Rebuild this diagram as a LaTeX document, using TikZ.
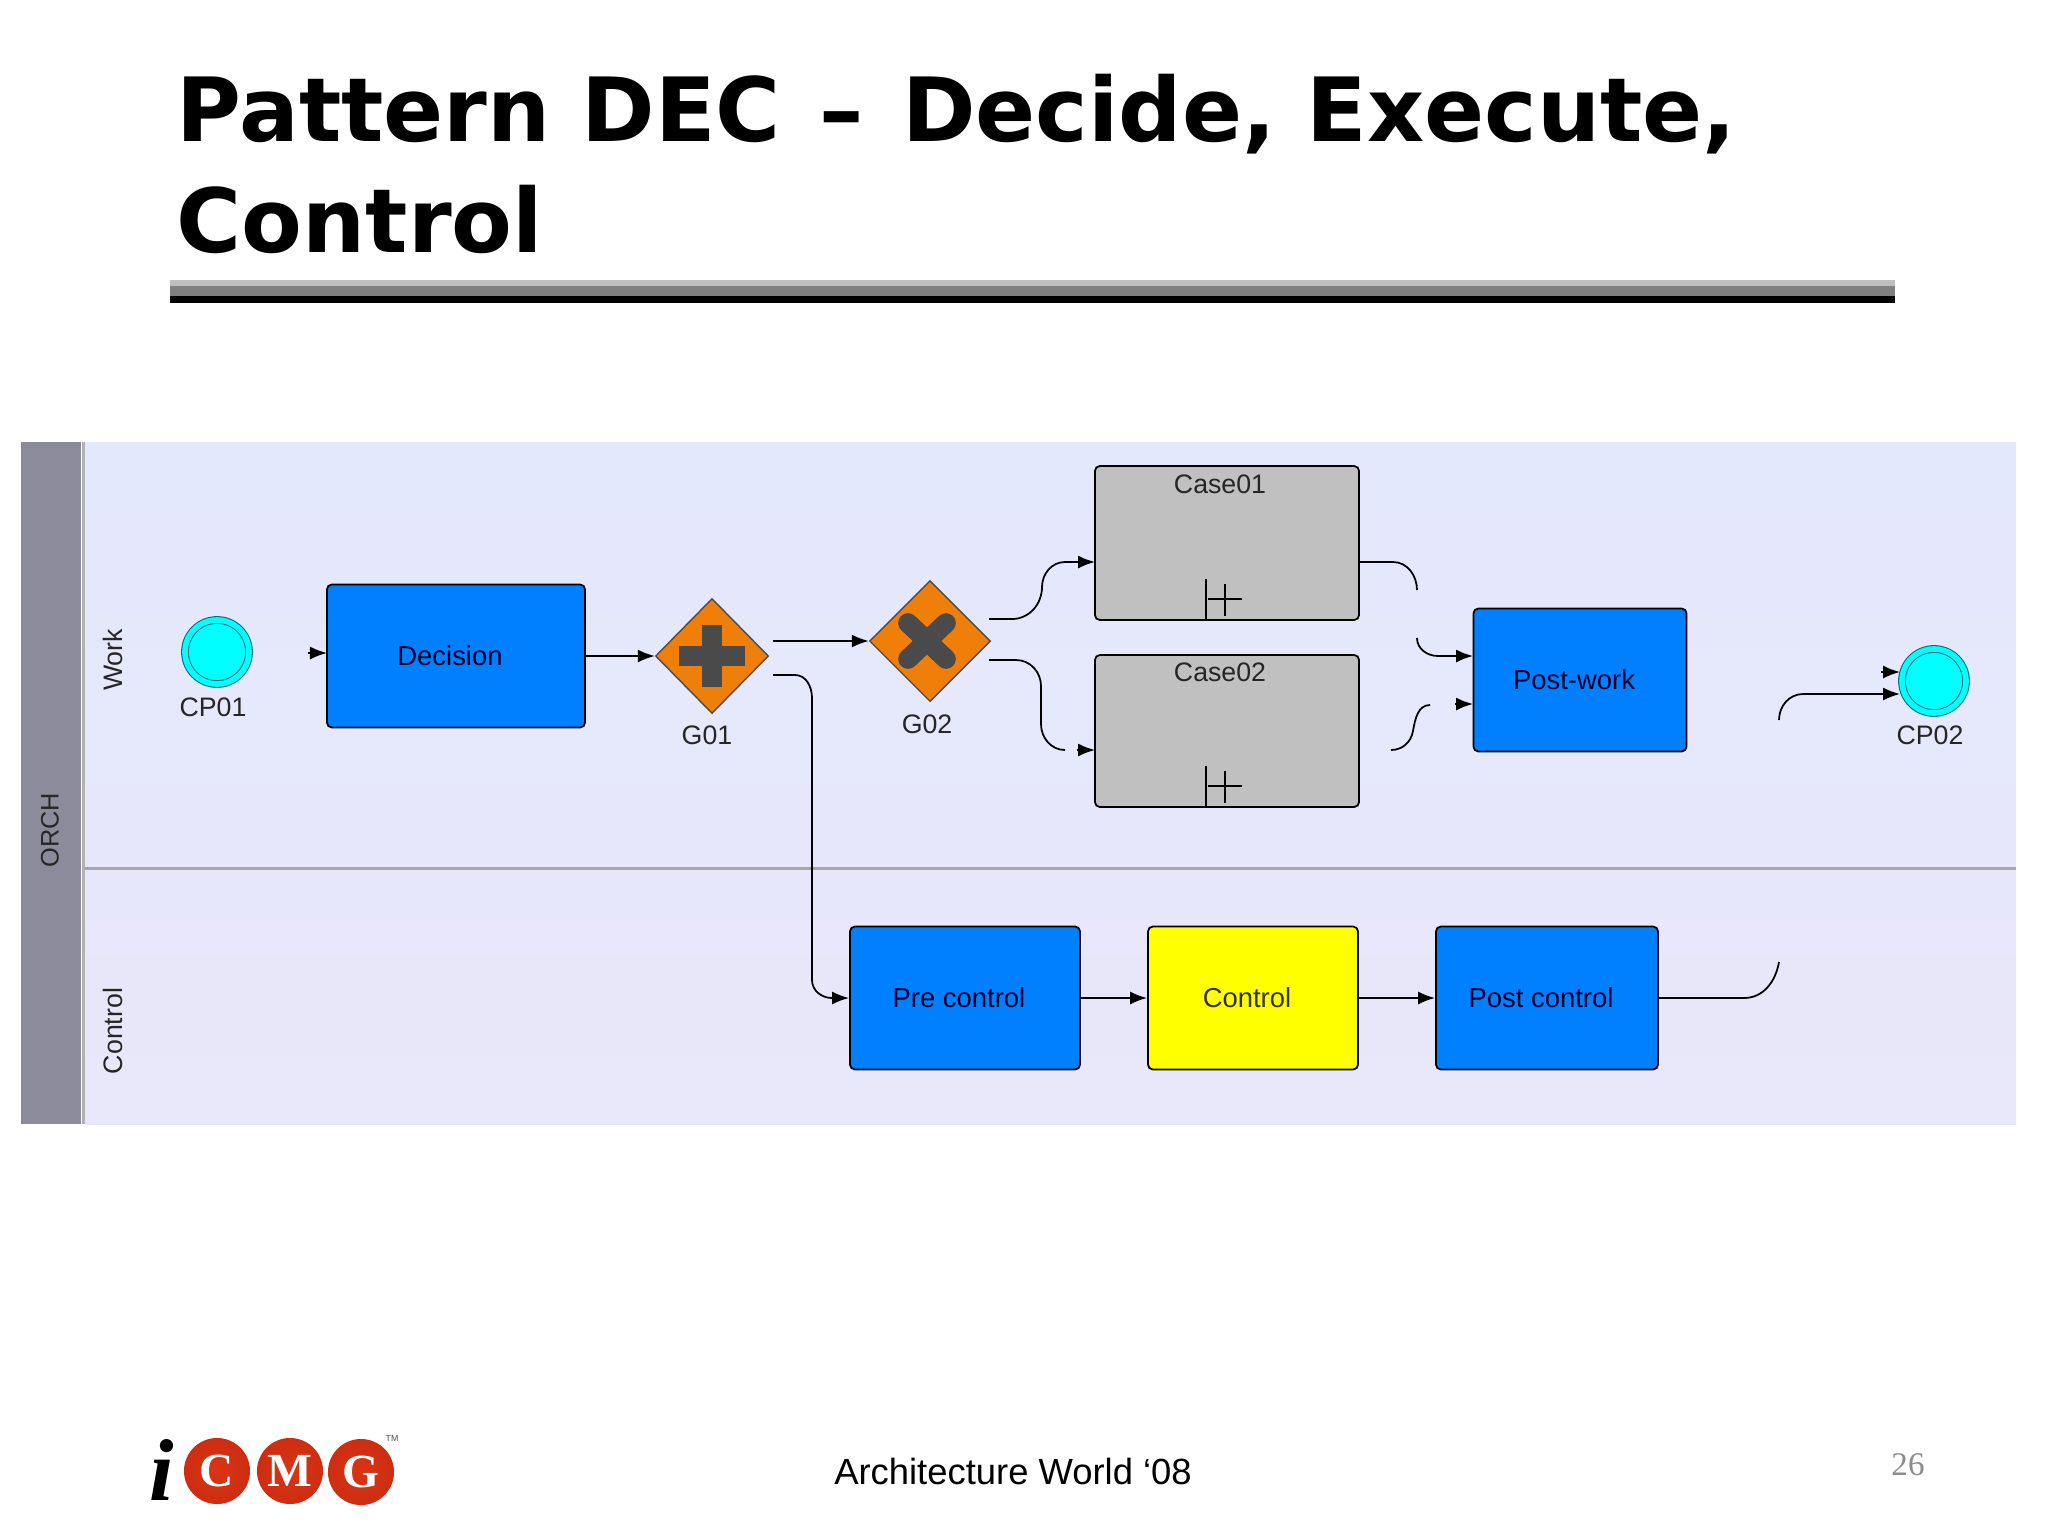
\documentclass[tikz,border=0pt]{standalone}
\usepackage{fontspec}
\setmainfont{Liberation Sans}
\newfontfamily\titlefont{DejaVu Sans}
\newfontfamily\numfont{Liberation Serif}
\usetikzlibrary{arrows.meta, calc, shapes.geometric}

\definecolor{laneA}{HTML}{E4E8FC}
\definecolor{laneB}{HTML}{E9E7FA}
\definecolor{headfill}{HTML}{8C8B9B}
\definecolor{taskblue}{HTML}{0080FF}
\definecolor{taskyellow}{HTML}{FFFF00}
\definecolor{casegray}{HTML}{C0C0C0}
\definecolor{gateorange}{HTML}{F07F0A}
\definecolor{gatemark}{HTML}{4A4A4A}
\definecolor{eventfill}{HTML}{00FFFF}
\definecolor{eventline}{HTML}{006C80}
\definecolor{ballmid}{HTML}{D93414}
\definecolor{balldark}{HTML}{C82A10}
\definecolor{ballrim}{HTML}{F0A090}
\pgfdeclareradialshading{logoshade}{\pgfpoint{0bp}{0bp}}{color(0bp)=(ballmid); color(36bp)=(balldark); color(46bp)=(ballmid); color(50bp)=(ballrim)}

\tikzset{
    tasknode/.style={draw=black, line width=0.5pt, rounded corners=0.05cm, minimum height=1.43cm, inner sep=0pt, font=\fontsize{7.8}{9}\selectfont, text=black!60!blue!40!black, execute at end node=\kern0.12cm},
    casenode/.style={draw=black, line width=0.5pt, rounded corners=0.05cm, fill=casegray, minimum width=2.64cm, inner sep=0pt},
    gatenode/.style={diamond, draw=black!70, line width=0.4pt, fill=gateorange, aspect=1, inner sep=0pt},
    eventnode/.style={circle, draw=eventline, fill=eventfill, double=eventfill, double distance=1.6pt, line width=0.3pt, minimum size=0.64cm, inner sep=0pt},
    smalltext/.style={font=\fontsize{7.6}{9}\selectfont, text=black!85, inner sep=0pt},
    flow/.style={line width=0.5pt, black},
    ballnode/.style={circle, shading=logoshade, minimum size=0.66cm, inner sep=0pt, text=white, font=\numfont\bfseries\fontsize{13.5}{14}\selectfont},
}

\begin{document}
\begin{tikzpicture}[x=0.01cm, y=-0.01cm, >={Latex[length=0.17cm,width=0.13cm]}]
    \useasboundingbox (0,0) rectangle (2048,1536);

    % title and rule
    \node[anchor=base west, inner sep=0pt, font=\titlefont\bfseries\fontsize{25.2}{30}\selectfont] (titleA) at (176,141) {Pattern DEC\kern2.2pt{} – \kern2.2pt{}Decide, Execute,};
    \node[anchor=base west, inner sep=0pt, font=\titlefont\bfseries\fontsize{25.2}{30}\selectfont] (titleB) at (176,252) {Control};
    \fill[black!25] (170,280) rectangle (1895,286);
    \fill[black!50] (170,286) rectangle (1895,296);
    \fill[black] (170,296) rectangle (1895,303);

    % pool and lanes
    \fill[headfill] (21,442) rectangle (81,1124);
    \fill[top color=laneA, bottom color=laneB] (85,442) rectangle (2016,1124);
    \draw[black!30, line width=0.6pt] (83.5,442) -- (83.5,1124);
    \draw[black!35, line width=0.6pt] (85,868.5) -- (2016,868.5);
    \node[smalltext, rotate=90, font=\fontsize{7.2}{9}\selectfont] (orch) at (50,830) {ORCH};
    \node[smalltext, rotate=90] (worklane) at (113,660) {Work};
    \node[smalltext, rotate=90] (controllane) at (113,1031) {Control};

    % events
    \node[eventnode] (cp01) at (217,652) {};
    \node[smalltext] (cp01text) at (213,707) {CP01};
    \node[eventnode] (cp02) at (1934,681) {};
    \node[smalltext] (cp02text) at (1930,735) {CP02};

    % tasks
    \node[tasknode, fill=taskblue, minimum width=2.58cm] (decision) at (456,656) {Decision};
    \node[tasknode, fill=taskblue, minimum width=2.13cm] (postwork) at (1580,680) {Post-work};
    \node[tasknode, fill=taskblue, minimum width=2.30cm] (precontrol) at (965,998) {Pre control};
    \node[tasknode, fill=taskyellow, minimum width=2.10cm, text=black!80] (control) at (1253,998) {Control};
    \node[tasknode, fill=taskblue, minimum width=2.22cm] (postcontrol) at (1547,998) {Post control};

    % sub-processes
    \node[casenode, minimum height=1.54cm] (case01) at (1227,543) {};
    \node[casenode, minimum height=1.52cm] (case02) at (1227,731) {};
    \node[smalltext] (case01text) at (1220,484) {Case01};
    \node[smalltext] (case02text) at (1220,672) {Case02};
    \foreach \sub in {case01,case02} {
        \draw[black, line width=0.6pt] ($(\sub.south)+(-21,0)$) -- ($(\sub.south)+(-21,-42)$);
        \draw[black, line width=0.6pt] ($(\sub.south)+(-19,-22)$) -- ($(\sub.south)+(15,-22)$);
        \draw[black, line width=0.6pt] ($(\sub.south)+(-2,-5)$) -- ($(\sub.south)+(-2,-37)$);
    }

    % gateways
    \node[gatenode, minimum width=1.13cm, minimum height=1.15cm] (g01) at (712,656) {};
    \node[gatenode, minimum width=1.21cm, minimum height=1.21cm] (g02) at (930,641) {};
    \node[smalltext] (g01text) at (707,735) {G01};
    \node[smalltext] (g02text) at (927,724) {G02};
    \draw[gatemark, line width=5.6pt] ($(g01)+(-33,0)$) -- ($(g01)+(33,0)$);
    \draw[gatemark, line width=5.6pt] ($(g01)+(0,-31)$) -- ($(g01)+(0,31)$);
    \draw[gatemark, line width=5.6pt, line cap=round] ($(g02)+(-22,-18)$) -- ($(g02)+(16,18)$);
    \draw[gatemark, line width=5.6pt, line cap=round] ($(g02)+(-22,18)$) -- ($(g02)+(16,-18)$);

    % free ends of the connectors
    \coordinate (cp01out) at (308,653);
    \coordinate (decisionin) at (327,653);
    \coordinate (g01a) at (773,641);
    \coordinate (g01b) at (773,675);
    \coordinate (g02a) at (989,619);
    \coordinate (g02b) at (989,660);
    \coordinate (case01in) at (1095,562);
    \coordinate (case02in) at (1095,750);
    \coordinate (case01out) at (1359,562);
    \coordinate (case01gap) at (1417,590);
    \coordinate (workinA) at (1417,638);
    \coordinate (workportA) at (1473,656);
    \coordinate (case02out) at (1391,750);
    \coordinate (case02gap) at (1430,705);
    \coordinate (workinB) at (1455,704);
    \coordinate (workportB) at (1473,704);
    \coordinate (workout) at (1881,672);
    \coordinate (cp02portA) at (1900,672);
    \coordinate (postgap) at (1779,962);
    \coordinate (cp02in) at (1779,720);
    \coordinate (cp02portB) at (1900,694);

    % connectors
    \draw[flow, ->] (cp01out) -- (decisionin);
    \draw[flow, ->] (decision) -- (g01);
    \draw[flow, ->] (g01a) -- (g02);
    \draw[flow, ->] (g01b) -- (795,675) to[out=0,in=90] (812,698) -- (812,980) to[out=-90,in=180] (832,998) -- (precontrol.west);
    \draw[flow, ->] (g02a) -- (1012,619) to[out=0,in=-90] (1042,587) to[out=90,in=180] (1065,562) -- (case01in);
    \draw[flow] (g02b) -- (1016,660) to[out=0,in=90] (1041,686) -- (1041,724) to[out=-90,in=180] (1065,750);
    \draw[flow, ->] (1077,750) -- (case02in);
    \draw[flow] (case01out) -- (1393,562) to[out=0,in=90] (case01gap);
    \draw[flow, ->] (workinA) to[out=-90,in=180] (1438,656) -- (workportA);
    \draw[flow] (case02out) to[out=0,in=-100] (1413,731) to[out=80,in=180] (case02gap);
    \draw[flow, ->] (workinB) -- (workportB);
    \draw[flow, ->] (workout) -- (cp02portA);
    \draw[flow, ->] (cp02in) to[out=90,in=180] (1803,694) -- (cp02portB);
    \draw[flow, ->] (precontrol) -- (control);
    \draw[flow, ->] (control) -- (postcontrol);
    \draw[flow] (postcontrol) -- (1744,998) to[out=0,in=-100] (postgap);

    % footer
    \node[inner sep=0pt, font=\fontsize{10.35}{12}\selectfont] (footer) at (1013,1471) {Architecture World ‘08};
    \node[inner sep=0pt, text=black!45, font=\numfont\fontsize{9.4}{11}\selectfont] (pagenum) at (1908,1465) {26};

    % logo
    \node[inner sep=0pt, font=\numfont\bfseries\itshape\fontsize{25}{26}\selectfont] (logoi) at (162,1470) {i};
    \node[ballnode] (logoC) at (217,1471) {C};
    \node[ballnode] (logoM) at (290,1471) {M};
    \node[ballnode] (logoG) at (361,1472) {G};
    \node[inner sep=0pt, text=black!70, font=\fontsize{2.5}{3}\selectfont] (logotm) at (392,1438) {TM};
\end{tikzpicture}
\end{document}
